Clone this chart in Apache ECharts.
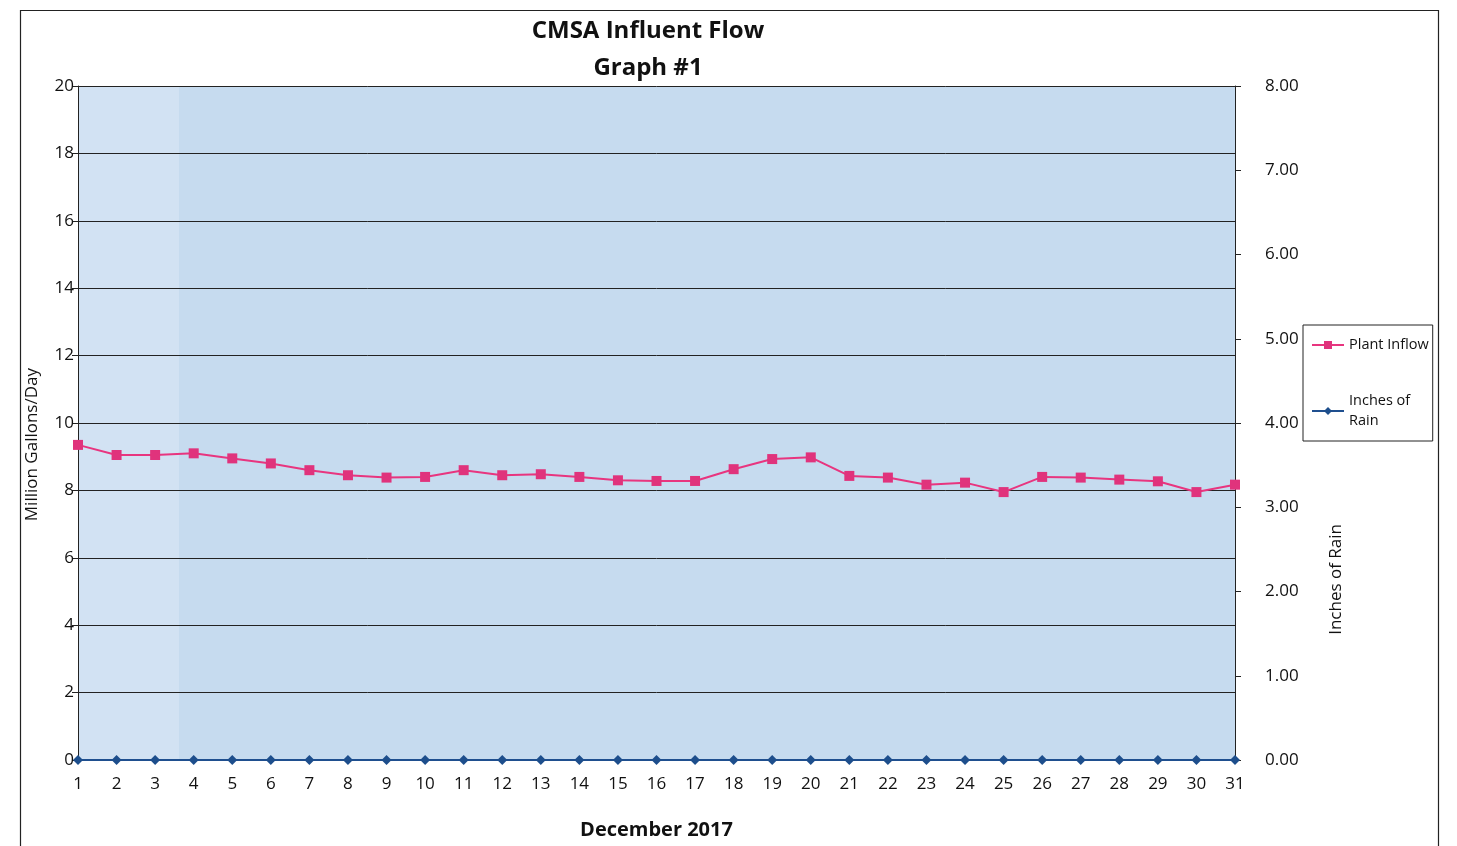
<!DOCTYPE html>
<html><head><meta charset="utf-8">
<script src="https://cdn.jsdelivr.net/npm/echarts@6/dist/echarts.min.js"></script>
<style>html,body{margin:0;padding:0;background:#fff}#c{width:1457px;height:846px}</style>
</head><body><div id="c"></div>
<script>
const days = ['1','2','3','4','5','6','7','8','9','10','11','12','13','14','15','16','17','18','19','20','21','22','23','24','25','26','27','28','29','30','31'];
const plantInflow = [9.35,9.05,9.05,9.1,8.95,8.8,8.6,8.45,8.38,8.4,8.6,8.45,8.48,8.4,8.3,8.28,8.28,8.63,8.93,8.98,8.43,8.38,8.17,8.23,7.95,8.4,8.38,8.32,8.27,7.95,8.17];
const inchesOfRain = [0,0,0,0,0,0,0,0,0,0,0,0,0,0,0,0,0,0,0,0,0,0,0,0,0,0,0,0,0,0,0];

const font = 'Open Sans, Liberation Sans, sans-serif';
const chart = echarts.init(document.getElementById('c'));
chart.setOption({
  animation: false,
  backgroundColor: '#fff',
  title: {
    text: 'CMSA Influent Flow\nGraph #1',
    left: 643, top: 8, textAlign: 'center',
    textStyle: {fontFamily: font, fontSize: 24, fontWeight: 'bold', color: '#111', lineHeight: 37}
  },
  graphic: [
    {type: 'rect', left: 18, top: 8, shape: {width: 1418, height: 850}, style: {fill: 'none', stroke: '#222', lineWidth: 1.2}, silent: true},
    {type: 'rect', left: 79, top: 86, shape: {width: 100, height: 673}, style: {fill: '#d2e2f3'}, silent: true, z: 0.5},
    {type: 'text', left: 1328, top: 524, rotation: Math.PI/2, style: {text: 'Inches of Rain', font: '17px ' + font, fill: '#111'}, silent: true},
    {type: 'text', left: 24, top: 368, rotation: Math.PI/2, style: {text: 'Million Gallons/Day', font: '17px ' + font, fill: '#111'}, silent: true}
  ],
  legend: {
    orient: 'vertical', left: 1303, top: 325, width: 132, height: 113,
    padding: [10, 4, 10, 8], itemGap: 36,
    borderColor: '#222', borderWidth: 1, backgroundColor: '#fff',
    itemWidth: 32, itemHeight: 10,
    textStyle: {fontFamily: font, fontSize: 14.5, color: '#111', lineHeight: 20},
    formatter: n => n === 'Inches of Rain' ? 'Inches of\nRain' : n,
    data: ['Plant Inflow', 'Inches of Rain']
  },
  grid: {left: 78, right: 222, top: 86, bottom: 86, show: true, backgroundColor: '#c6dbef', borderWidth: 0},
  xAxis: {
    type: 'category', data: days, boundaryGap: false, z: 1,
    name: 'December 2017', nameLocation: 'middle', nameGap: 60,
    nameTextStyle: {fontFamily: font, fontSize: 20, fontWeight: 'bold', color: '#111'},
    axisLine: {lineStyle: {color: '#222', width: 1}},
    axisTick: {show: false},
    axisLabel: {fontFamily: font, fontSize: 17, color: '#111', margin: 16}
  },
  yAxis: [
    {
      type: 'value', min: 0, max: 20, interval: 2, z: 1,
      axisLine: {show: true, lineStyle: {color: '#222'}},
      axisTick: {show: true, length: 6, lineStyle: {color: '#222'}},
      splitLine: {lineStyle: {color: '#222', width: 1}},
      axisLabel: {fontFamily: font, fontSize: 17, color: '#111', margin: 4}
    },
    {
      type: 'value', min: 0, max: 8, interval: 1, position: 'right', z: 1,
      axisLine: {show: true, lineStyle: {color: '#222'}},
      axisTick: {show: true, length: 6, inside: false, lineStyle: {color: '#222'}},
      splitLine: {show: false},
      axisLabel: {fontFamily: font, fontSize: 17, color: '#111', margin: 30, formatter: v => v.toFixed(2)}
    }
  ],
  series: [
    {
      name: 'Plant Inflow', type: 'line', yAxisIndex: 0, data: plantInflow,
      symbol: 'rect', symbolSize: 10,
      lineStyle: {color: '#e8357f', width: 2}, itemStyle: {color: '#e0337c'}
    },
    {
      name: 'Inches of Rain', type: 'line', yAxisIndex: 1, data: inchesOfRain,
      symbol: 'diamond', symbolSize: 10,
      lineStyle: {color: '#1f4f8f', width: 2}, itemStyle: {color: '#1d4e8c'}, z: 3
    }
  ]
});
</script></body></html>
